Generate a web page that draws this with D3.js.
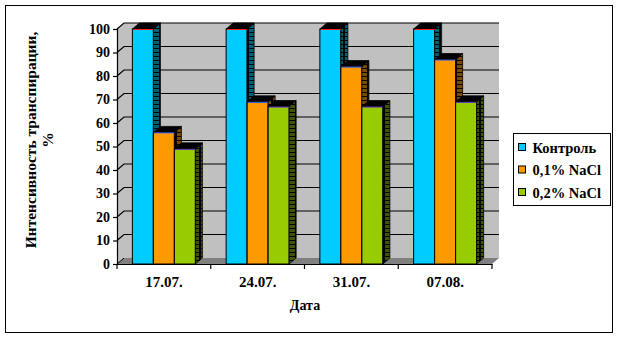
<!DOCTYPE html>
<html>
<head>
<meta charset="utf-8">
<script src="https://cdn.jsdelivr.net/npm/d3@7"></script>
<style>
  html, body { margin: 0; padding: 0; background: #ffffff; }
  svg { display: block; }
  text { font-family: "Liberation Serif", "Times New Roman", serif; font-weight: bold; fill: #000; }
</style>
</head>
<body>
<script>
// Transpiration intensity relative to control, %
const categories = ["17.07.", "24.07.", "31.07.", "07.08."];
const seriesNames = ["Контроль", "0,1% NaCl", "0,2% NaCl"];
const control = [100, 100, 100, 100];
const nacl01 = [56, 69, 84, 87];
const nacl02 = [49, 67, 67, 69];
const yTicks = [0, 10, 20, 30, 40, 50, 60, 70, 80, 90, 100];

const seriesValues = [control, nacl01, nacl02];
const fills = ["#00ccff", "#ff9900", "#99cc00"];
const sideFills = ["#00607a", "#7a4a00", "#3f5500"];
const edgeLines = ["#ff2020", "#3366ff", "#6633cc"];

const W = 618, H = 337;
const dx = 7, dy = -6; // depth offset of the 3-D box

const svg = d3.select("body").append("svg")
  .attr("width", W).attr("height", H);

// stripe patterns for bar side faces
const defs = svg.append("defs");
sideFills.forEach((c, i) => {
  const p = defs.append("pattern")
    .attr("id", "side" + i)
    .attr("patternUnits", "userSpaceOnUse")
    .attr("width", 8).attr("height", 4);
  p.append("rect").attr("width", 8).attr("height", 4).attr("fill", "#000");
  p.append("rect").attr("x", 1).attr("y", 1).attr("width", 6).attr("height", 3).attr("fill", c);
});

// outer frame
svg.append("rect")
  .attr("x", 5.5).attr("y", 5.5).attr("width", 607).attr("height", 327)
  .attr("fill", "none").attr("stroke", "#000").attr("stroke-width", 1);

const x0 = 117, x1 = 492;
const y = d3.scaleLinear().domain([0, 100]).range([264, 29]);
const x = d3.scaleBand().domain(categories).range([x0, x1]);
const groupW = 63;
const xs = d3.scaleBand().domain(seriesNames).range([0, groupW]);
const groupOff = (x.bandwidth() - groupW) / 2;

const g = svg.append("g");

// back wall
g.append("rect")
  .attr("x", x0 + dx).attr("y", y(100) + dy)
  .attr("width", x1 - x0).attr("height", y(0) - y(100))
  .attr("fill", "#c0c0c0");
// side wall
g.append("path")
  .attr("d", `M${x0},${y(0)}L${x0},${y(100)}L${x0 + dx},${y(100) + dy}L${x0 + dx},${y(0) + dy}Z`)
  .attr("fill", "#c0c0c0");
// floor
g.append("path")
  .attr("d", `M${x0},${y(0)}L${x0 + dx},${y(0) + dy}L${x1 + dx},${y(0) + dy}L${x1},${y(0)}Z`)
  .attr("fill", "#808080");

// gridlines on walls
yTicks.filter(t => t > 0).forEach(t => {
  g.append("path")
    .attr("d", `M${x0},${y(t)}L${x0 + dx},${y(t) + dy}L${x1 + dx},${y(t) + dy}`)
    .attr("fill", "none").attr("stroke", "#000").attr("stroke-width", 1.2);
});
g.append("path")
  .attr("d", `M${x0},${y(0)}L${x0 + dx},${y(0) + dy}`)
  .attr("fill", "none").attr("stroke", "#000").attr("stroke-width", 1);

// bars
categories.forEach((cat, ci) => {
  seriesNames.forEach((s, si) => {
    const v = seriesValues[si][ci];
    const bx = x(cat) + groupOff + xs(s);
    const bw = xs.bandwidth();
    const top = y(v), base = y(0);
    // front
    g.append("rect")
      .attr("x", bx).attr("y", top).attr("width", bw).attr("height", base - top)
      .attr("fill", fills[si]).attr("stroke", "#000").attr("stroke-width", 1);
    // side
    g.append("path")
      .attr("d", `M${bx + bw},${base}L${bx + bw},${top}L${bx + bw + dx},${top + dy}L${bx + bw + dx},${base + dy}Z`)
      .attr("fill", `url(#side${si})`).attr("stroke", "#000").attr("stroke-width", 0.8);
    // top
    g.append("path")
      .attr("d", `M${bx},${top}L${bx + dx},${top + dy}L${bx + bw + dx},${top + dy}L${bx + bw},${top}Z`)
      .attr("fill", "#000").attr("stroke", "#000").attr("stroke-width", 0.8);
    // front top edge
    g.append("line")
      .attr("x1", bx + 1).attr("x2", bx + bw).attr("y1", top + 0.5).attr("y2", top + 0.5)
      .attr("stroke", edgeLines[si]).attr("stroke-width", 1);
  });
});

// y axis
const yAxis = svg.append("g")
  .attr("transform", `translate(${x0},0)`)
  .call(d3.axisLeft(y).tickValues(yTicks).tickSize(4).tickPadding(3).tickFormat(d3.format("d")));
yAxis.selectAll("path,line").attr("stroke", "#000").attr("stroke-width", 1.2);
yAxis.selectAll("text").style("font-size", "14px").style("font-family", "Liberation Serif").style("font-weight", "bold");

// x axis
const xAxis = svg.append("g")
  .attr("transform", `translate(0,${y(0)})`)
  .call(d3.axisBottom(x).tickSize(0).tickPadding(12));
xAxis.select(".domain").attr("stroke", "#000").attr("stroke-width", 1.2);
xAxis.selectAll("text").style("font-size", "15px").style("font-family", "Liberation Serif").style("font-weight", "bold");
// category boundary ticks
d3.range(categories.length + 1).forEach(i => {
  const tx = i === categories.length ? x1 : x(categories[i]);
  svg.append("line")
    .attr("x1", tx).attr("x2", tx).attr("y1", y(0)).attr("y2", y(0) + 5)
    .attr("stroke", "#000").attr("stroke-width", 1.2);
});

// axis titles
svg.append("text")
  .attr("x", 305).attr("y", 310)
  .attr("text-anchor", "middle")
  .style("font-size", "14px")
  .text("Дата");

const yt = svg.append("text")
  .attr("transform", "translate(36,140) rotate(-90)")
  .attr("text-anchor", "middle")
  .style("font-size", "15.5px");
yt.append("tspan").attr("x", 0).attr("dy", 0).text("Интенсивность транспирации,");
yt.append("tspan").attr("x", 0).attr("dy", 17).text("%");

// legend
const lg = svg.append("g").attr("transform", "translate(513.5,133.5)");
lg.append("rect").attr("width", 97).attr("height", 72)
  .attr("fill", "#fff").attr("stroke", "#000").attr("stroke-width", 1);
seriesNames.forEach((s, i) => {
  const cy = 14 + i * 22.5;
  lg.append("rect")
    .attr("x", 5).attr("y", cy - 4).attr("width", 7).attr("height", 7)
    .attr("fill", fills[i]).attr("stroke", "#000").attr("stroke-width", 1);
  lg.append("text")
    .attr("x", 19).attr("y", cy + 5)
    .style("font-size", "14.5px")
    .text(s);
});
</script>
</body>
</html>
